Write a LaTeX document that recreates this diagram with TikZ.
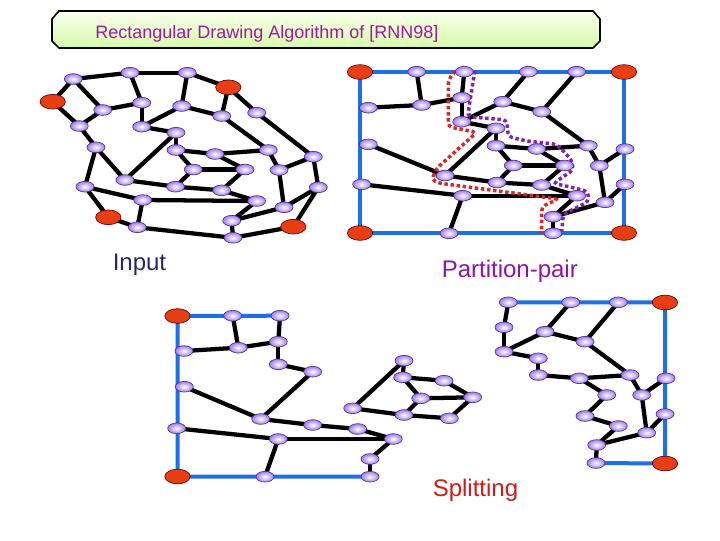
\documentclass[tikz,border=0pt]{standalone}
\usepackage{fontspec}
\setmainfont{Liberation Sans}
\usetikzlibrary{shapes.geometric}
\definecolor{LBlue}{RGB}{30,110,230}
\definecolor{NRed}{RGB}{232,62,20}
\definecolor{Lav}{RGB}{160,125,240}
\definecolor{DLav}{RGB}{80,50,130}
\definecolor{TPurple}{RGB}{160,25,165}
\definecolor{PPurple}{RGB}{140,20,170}
\definecolor{DNavy}{RGB}{40,40,100}
\definecolor{SRed}{RGB}{210,25,25}
\definecolor{DotRed}{RGB}{215,40,40}
\definecolor{DotPurple}{RGB}{130,35,175}
\definecolor{BoxTop}{RGB}{248,255,235}
\definecolor{BoxBot}{RGB}{215,250,170}

\tikzset{
  vtx/.style={ellipse, draw=DLav, line width=0.5pt, inner color=white, outer color=Lav,
    minimum width=13.5pt, minimum height=8pt, inner sep=0pt},
  crn/.style={ellipse, draw=black!60!red, line width=0.5pt, fill=NRed,
    minimum width=19pt, minimum height=11pt, inner sep=0pt},
  link/.style={black, line width=3.2pt},
  bluebar/.style={LBlue, line width=3pt},
  trail/.style={line width=2.6pt, dash pattern=on 2.6pt off 2pt, rounded corners=3pt},
  caption/.style={anchor=base west, inner sep=0pt, font=\fontsize{18}{20}\selectfont},
}

\begin{document}
\begin{tikzpicture}[x=0.75pt, y=-0.75pt]

    \useasboundingbox (0,0) rectangle (720,540);

    % Title
    \draw[line width=1.2pt, top color=BoxTop, bottom color=BoxBot]
        (52,19) -- (59,11) -- (593,11) -- (600,19) -- (600,41) -- (593,48) -- (59,48) -- (52,41) -- cycle;
    \node[caption, TPurple, font=\fontsize{13.5}{15}\selectfont] (title) at (95,38)
        {Rectangular Drawing Algorithm of [RNN98]};

    % Input
    \begin{scope}[name prefix=in-]
        \coordinate (A) at (52.7,101.7);
        \coordinate (B) at (228.3,87.3);
        \coordinate (C) at (108.3,217.3);
        \coordinate (D) at (293.3,226.7);
        \coordinate (1) at (73.3,79);
        \coordinate (2) at (130,72.7);
        \coordinate (3) at (187.3,72.7);
        \coordinate (4) at (141.7,102.7);
        \coordinate (5) at (102.7,110);
        \coordinate (6) at (181.7,106);
        \coordinate (7) at (221.7,116);
        \coordinate (8) at (256.7,112.7);
        \coordinate (9) at (79.3,126);
        \coordinate (10) at (141.7,126.7);
        \coordinate (11) at (176,132.7);
        \coordinate (12) at (96,147.3);
        \coordinate (13) at (176,150);
        \coordinate (14) at (215,154);
        \coordinate (15) at (268.3,150);
        \coordinate (16) at (313.3,156.7);
        \coordinate (17) at (193.3,169.5);
        \coordinate (18) at (245,169.5);
        \coordinate (19) at (279,170);
        \coordinate (20) at (125,180);
        \coordinate (21) at (175.5,186.7);
        \coordinate (22) at (221.7,190.3);
        \coordinate (23) at (85,186.7);
        \coordinate (24) at (318.3,187.3);
        \coordinate (25) at (142.7,200);
        \coordinate (26) at (256.7,201);
        \coordinate (27) at (284,207.3);
        \coordinate (28) at (231.7,220.7);
        \coordinate (29) at (137.3,227.3);
        \coordinate (30) at (233,237.8);
    \end{scope}

    \foreach \a/\b in {1/2, 2/3, 3/B, 1/A, 1/5, A/9, 9/5, 5/4, 2/4, 4/10, 10/6, 6/3, 6/7, 7/B,
                       B/8, 8/16, 7/15, 10/11, 11/13, 11/20, 9/12, 12/20, 12/23, 13/14, 14/15,
                       14/18, 13/17, 17/18, 17/21, 20/21, 21/22, 22/18, 22/26, 15/19, 19/16,
                       16/24, 19/27, 24/27, 24/D, 23/25, 23/C, C/29, 25/29, 25/26, 26/28,
                       27/28, 28/30, 29/30, 30/D}
        \draw[link] (in-\a) -- (in-\b);

    \foreach \i in {1,...,30}
        \node[vtx] (in-v\i) at (in-\i) {};
    \foreach \i in {A,B,C,D}
        \node[crn] (in-v\i) at (in-\i) {};

    \node[caption, DNavy] (lbl-in) at (112.5,270) {Input};

    % Partition-pair
    \begin{scope}[name prefix=pp-]
        \coordinate (A) at (360,72);
        \coordinate (B) at (624,72);
        \coordinate (C) at (360,233);
        \coordinate (D) at (624,233);
        \coordinate (1) at (416.7,71.7);
        \coordinate (2) at (464.3,71.7);
        \coordinate (3) at (528.3,71.7);
        \coordinate (4) at (576.7,71.7);
        \coordinate (5) at (368.3,107.7);
        \coordinate (6) at (421.7,105);
        \coordinate (7) at (461.7,97.7);
        \coordinate (8) at (502.7,101.7);
        \coordinate (9) at (541.7,111.7);
        \coordinate (10) at (461.7,121.7);
        \coordinate (11) at (496,128.3);
        \coordinate (12) at (368.3,144.3);
        \coordinate (13) at (496,145.7);
        \coordinate (14) at (536.7,149);
        \coordinate (15) at (588.3,145.7);
        \coordinate (16) at (625,149);
        \coordinate (17) at (513.3,165.5);
        \coordinate (18) at (564.5,165.5);
        \coordinate (19) at (599.3,165.7);
        \coordinate (20) at (445,175.5);
        \coordinate (21) at (497,182.5);
        \coordinate (22) at (541.7,185);
        \coordinate (23) at (361.7,184.3);
        \coordinate (24) at (625,184.3);
        \coordinate (25) at (462.7,195.7);
        \coordinate (26) at (576.7,195.7);
        \coordinate (27) at (605,202.3);
        \coordinate (28) at (553,216.7);
        \coordinate (29) at (449,233.3);
        \coordinate (30) at (553,233.3);
    \end{scope}

    \draw[bluebar] (pp-A) -- (pp-B) -- (pp-D) -- (pp-C) -- cycle;

    \foreach \a/\b in {7/2, 6/1, 6/7, 6/5, 7/10, 10/8, 8/3, 8/9, 9/4, 9/15, 10/11, 11/13,
                       11/20, 12/20, 13/14, 14/15, 14/18, 13/17, 17/18, 17/21, 20/21, 21/22,
                       22/18, 22/26, 15/19, 19/16, 19/27, 24/27, 23/25, 25/29, 25/26, 26/28,
                       27/28, 28/30}
        \draw[link] (pp-\a) -- (pp-\b);

    % the two paths of the pair
    \draw[trail, DotRed]
        (455,71) -- (448.3,80) -- (448.3,126.7) -- (476.7,132.3) -- (436.7,168.3)
        -- (431.7,180) -- (440,183.3) -- (558.3,199) -- (541.7,206.7) -- (541.7,233.3);
    \draw[trail, DotPurple]
        (475,71) -- (473.3,80) -- (468.3,111.7) -- (468.3,116.7) -- (506.7,120)
        -- (508.3,136.7) -- (526.7,141) -- (556.7,144.3) -- (571.7,160) -- (573.3,170)
        -- (553.3,183.3) -- (573.3,187.7) -- (588.3,191.7) -- (588.3,201.7)
        -- (563.3,214.3) -- (561.7,231.7);

    \foreach \i in {1,...,30}
        \node[vtx] (pp-v\i) at (pp-\i) {};
    \foreach \i in {A,B,C,D}
        \node[crn] (pp-v\i) at (pp-\i) {};

    \node[caption, PPurple] (lbl-pp) at (441.5,277) {Partition-pair};

    % Splitting
    \begin{scope}[name prefix=sl-]
        \coordinate (A) at (177.5,316);
        \coordinate (C) at (177.5,476.5);
        \coordinate (1) at (232.7,315.7);
        \coordinate (2) at (280,315.7);
        \coordinate (3) at (278.3,341.7);
        \coordinate (4) at (238.3,347.7);
        \coordinate (5) at (184,351);
        \coordinate (6) at (278.3,364.3);
        \coordinate (7) at (312.7,371.7);
        \coordinate (8) at (184.3,386.7);
        \coordinate (9) at (260.7,419);
        \coordinate (10) at (312.7,425);
        \coordinate (11) at (357.7,429);
        \coordinate (12) at (176.7,428.3);
        \coordinate (13) at (278.3,439);
        \coordinate (14) at (393.3,439);
        \coordinate (15) at (370,459);
        \coordinate (16) at (265,476.7);
        \coordinate (17) at (370,476.7);
    \end{scope}

    \begin{scope}[name prefix=sm-]
        \coordinate (1) at (404,360.7);
        \coordinate (2) at (402.7,377.3);
        \coordinate (3) at (444,380.7);
        \coordinate (4) at (420.7,398.3);
        \coordinate (5) at (472.7,397.3);
        \coordinate (6) at (352.7,408.3);
        \coordinate (7) at (404,415);
        \coordinate (8) at (449.3,418.3);
    \end{scope}

    \begin{scope}[name prefix=sr-]
        \coordinate (B) at (665,302.5);
        \coordinate (D) at (665,463.5);
        \coordinate (1) at (508.3,302.3);
        \coordinate (2) at (570.7,302.3);
        \coordinate (3) at (618.3,302.3);
        \coordinate (4) at (504,327.3);
        \coordinate (5) at (545,331.7);
        \coordinate (6) at (585,341.7);
        \coordinate (7) at (504,351.7);
        \coordinate (8) at (538.3,358.3);
        \coordinate (9) at (538.3,375);
        \coordinate (10) at (579.3,378.3);
        \coordinate (11) at (630,375);
        \coordinate (12) at (666,378.3);
        \coordinate (13) at (606.7,395);
        \coordinate (14) at (641.7,395);
        \coordinate (15) at (585,416);
        \coordinate (16) at (665,414);
        \coordinate (17) at (618.3,426);
        \coordinate (18) at (646.7,432.7);
        \coordinate (19) at (596.7,445);
        \coordinate (20) at (596,463);
    \end{scope}

    \draw[bluebar] (sl-2) -- (sl-A) -- (sl-C) -- (sl-17);
    \draw[bluebar] (sr-1) -- (sr-B) -- (sr-D) -- (sr-20);

    \foreach \a/\b in {1/4, 2/3, 3/4, 4/5, 3/6, 6/7, 7/9, 8/9, 9/10, 10/11, 11/14, 12/13,
                       13/14, 13/16, 14/15, 15/17}
        \draw[link] (sl-\a) -- (sl-\b);
    \foreach \a/\b in {1/6, 1/2, 2/3, 3/5, 2/4, 4/5, 4/7, 6/7, 7/8, 8/5}
        \draw[link] (sm-\a) -- (sm-\b);
    \foreach \a/\b in {1/4, 4/7, 7/5, 5/2, 5/6, 6/3, 6/11, 7/8, 8/9, 9/10, 10/11, 10/13,
                       13/15, 15/17, 17/19, 11/14, 14/12, 14/18, 18/16, 18/19, 19/20}
        \draw[link] (sr-\a) -- (sr-\b);

    \foreach \i in {1,...,17}
        \node[vtx] (sl-v\i) at (sl-\i) {};
    \foreach \i in {1,...,8}
        \node[vtx] (sm-v\i) at (sm-\i) {};
    \foreach \i in {1,...,20}
        \node[vtx] (sr-v\i) at (sr-\i) {};
    \node[crn] (sl-vA) at (sl-A) {};
    \node[crn] (sl-vC) at (sl-C) {};
    \node[crn] (sr-vB) at (sr-B) {};
    \node[crn] (sr-vD) at (sr-D) {};

    \node[caption, SRed] (lbl-sp) at (432.5,496.5) {Splitting};

\end{tikzpicture}
\end{document}
